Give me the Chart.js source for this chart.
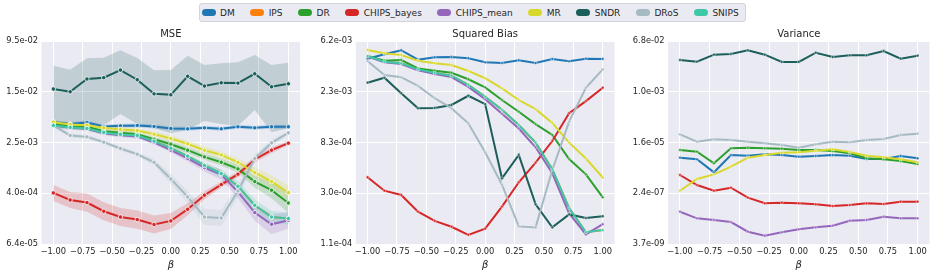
<!DOCTYPE html>
<html>
<head>
<meta charset="utf-8">
<script src="https://cdn.jsdelivr.net/npm/chart.js@4.4.1/dist/chart.umd.min.js"></script>
<style>
  html, body { margin: 0; padding: 0; background: #fff; }
  body { width: 934px; height: 274px; position: relative; overflow: hidden; font-family: "DejaVu Sans", sans-serif; }
  canvas { position: absolute; top: 0; }
  #legend { position: absolute; left: 199px; top: 3px; height: 19px; box-sizing: border-box; border: 1px solid #d3d3da;
            border-radius: 3px; background: #eaeaf2; display: flex; align-items: center; padding: 0 6px 0 1.5px;
            font-size: 9px; color: #262626; white-space: nowrap; }
  .item { display: flex; align-items: center; margin-right: 15.5px; }
  .item:last-child { margin-right: 0; }
  .patch { width: 14px; height: 7px; border-radius: 3.5px; margin-right: 4.5px; }
</style>
</head>
<body>
<div id="legend"></div>
<canvas id="mse" width="305" height="274" style="left:0px"></canvas>
<canvas id="bias" width="305" height="274" style="left:314px"></canvas>
<canvas id="variance" width="308" height="274" style="left:626px"></canvas>

<script>
const names = ['DM', 'IPS', 'DR', 'CHIPS_bayes', 'CHIPS_mean', 'MR', 'SNDR', 'DRoS', 'SNIPS'];
const colors = ['#1f77b4', '#ff7f0e', '#2ca02c', '#d62728', '#9467bd', '#d8d82c', '#1c5e5a', '#a6bac3', '#3fc8a8'];

const betas = [-1, -0.857, -0.714, -0.571, -0.429, -0.286, -0.143, 0, 0.143, 0.286, 0.429, 0.571, 0.714, 0.857, 1];
const xTicks = [-1, -0.75, -0.5, -0.25, 0, 0.25, 0.5, 0.75, 1];

// MSE (mean with confidence band)
const mseDM = [0.00513, 0.00478, 0.00508, 0.00440, 0.00449, 0.00456, 0.00440, 0.00409, 0.00403, 0.00418, 0.00403, 0.00434, 0.00418, 0.00434, 0.00434];
const mseDMLo = [0.00477, 0.00445, 0.00473, 0.00409, 0.00418, 0.00424, 0.00409, 0.00380, 0.00375, 0.00389, 0.00375, 0.00404, 0.00389, 0.00404, 0.00404];
const mseDMHi = [0.00551, 0.00514, 0.00546, 0.00473, 0.00483, 0.00490, 0.00473, 0.00440, 0.00433, 0.00449, 0.00433, 0.00467, 0.00449, 0.00467, 0.00467];
const mseIPS = [0.00456, 0.00424, 0.00409, 0.00354, 0.00330, 0.00318, 0.00259, 0.00201, 0.00151, 0.00108, 0.000809, 0.000512, 0.000258, 0.000169, 0.000160];
const mseDR = [0.00490, 0.00440, 0.00434, 0.00371, 0.00349, 0.00333, 0.00278, 0.00232, 0.00187, 0.00147, 0.00121, 0.000955, 0.000605, 0.000443, 0.000280];
const mseDRLo = [0.00456, 0.00409, 0.00404, 0.00345, 0.00325, 0.00310, 0.00259, 0.00208, 0.00168, 0.00132, 0.00107, 0.000827, 0.000488, 0.000332, 0.000195];
const mseDRHi = [0.00527, 0.00473, 0.00467, 0.00399, 0.00375, 0.00358, 0.00299, 0.00258, 0.00208, 0.00164, 0.00137, 0.00110, 0.000751, 0.000591, 0.000402];
const mseCHIPSb = [0.000402, 0.000312, 0.000284, 0.000208, 0.000169, 0.000154, 0.000129, 0.000147, 0.000223, 0.000370, 0.000543, 0.000789, 0.00134, 0.00187, 0.00241];
const mseCHIPSbLo = [0.000301, 0.000234, 0.000205, 0.000150, 0.000122, 0.000111, 0.0000933, 0.000110, 0.000180, 0.000320, 0.000487, 0.000708, 0.00120, 0.00168, 0.00224];
const mseCHIPSbHi = [0.000536, 0.000416, 0.000393, 0.000288, 0.000234, 0.000213, 0.000178, 0.000196, 0.000277, 0.000427, 0.000605, 0.000879, 0.00149, 0.00208, 0.00259];
const mseCHIPSm = [0.00453, 0.00418, 0.00403, 0.00345, 0.00321, 0.00307, 0.00247, 0.00187, 0.00139, 0.00100, 0.000780, 0.000417, 0.000198, 0.000130, 0.000150];
const mseCHIPSmLo = [0.00421, 0.00389, 0.00375, 0.00321, 0.00299, 0.00286, 0.00230, 0.00174, 0.00125, 0.000866, 0.000652, 0.000336, 0.000148, 0.0000907, 0.000112];
const mseCHIPSmHi = [0.00487, 0.00449, 0.00433, 0.00371, 0.00345, 0.00330, 0.00266, 0.00201, 0.00155, 0.00116, 0.000934, 0.000517, 0.000264, 0.000186, 0.000200];
const mseMR = [0.00513, 0.00472, 0.00460, 0.00418, 0.00394, 0.00380, 0.00333, 0.00285, 0.00235, 0.00187, 0.00158, 0.00121, 0.000838, 0.000605, 0.000407];
const mseMRLo = [0.00477, 0.00439, 0.00428, 0.00389, 0.00367, 0.00353, 0.00299, 0.00256, 0.00211, 0.00165, 0.00139, 0.00105, 0.000700, 0.000488, 0.000316];
const mseMRHi = [0.00551, 0.00507, 0.00495, 0.00449, 0.00424, 0.00409, 0.00371, 0.00317, 0.00262, 0.00212, 0.00179, 0.00140, 0.00100, 0.000751, 0.000524];
const mseSNDR = [0.0169, 0.0153, 0.0242, 0.0254, 0.0334, 0.0236, 0.0142, 0.0137, 0.0267, 0.0188, 0.0211, 0.0209, 0.0292, 0.0183, 0.0204];
const mseSNDRLo = [0.00478, 0.00445, 0.00513, 0.00460, 0.00685, 0.00478, 0.00413, 0.00345, 0.00385, 0.00532, 0.00478, 0.00445, 0.00791, 0.00358, 0.00413];
const mseSNDRHi = [0.0390, 0.0338, 0.0509, 0.0521, 0.0680, 0.0515, 0.0331, 0.0334, 0.0560, 0.0400, 0.0426, 0.0442, 0.0574, 0.0400, 0.0435];
const mseDRoS = [0.00456, 0.00318, 0.00302, 0.00250, 0.00199, 0.00162, 0.00121, 0.000665, 0.000348, 0.000169, 0.000163, 0.000432, 0.00139, 0.00243, 0.00349];
const mseDRoSLo = [0.00424, 0.00296, 0.00281, 0.00233, 0.00185, 0.00151, 0.00109, 0.000556, 0.000280, 0.000127, 0.000122, 0.000348, 0.00120, 0.00218, 0.00325];
const mseDRoSHi = [0.00490, 0.00342, 0.00325, 0.00269, 0.00214, 0.00174, 0.00135, 0.000796, 0.000432, 0.000225, 0.000217, 0.000536, 0.00161, 0.00271, 0.00375];
const mseSNIPS = [0.00456, 0.00424, 0.00409, 0.00354, 0.00330, 0.00318, 0.00259, 0.00201, 0.00151, 0.00108, 0.000809, 0.000512, 0.000258, 0.000169, 0.000160];
const mseSNIPSLo = [0.00424, 0.00394, 0.00380, 0.00329, 0.00307, 0.00296, 0.00241, 0.00187, 0.00140, 0.000969, 0.000700, 0.000428, 0.000208, 0.000136, 0.000129];
const mseSNIPSHi = [0.00490, 0.00456, 0.00440, 0.00381, 0.00355, 0.00342, 0.00278, 0.00216, 0.00162, 0.00120, 0.000934, 0.000613, 0.000320, 0.000210, 0.000199];
const mseTickVals = [6.4e-5, 3.97e-4, 2.47e-3, 1.53e-2, 9.5e-2];
const mseTickLabels = ['6.4e-05', '4.0e-04', '2.5e-03', '1.5e-02', '9.5e-02'];

// Squared bias
const biasDM = [0.00436, 0.00476, 0.00516, 0.00428, 0.00449, 0.00451, 0.00440, 0.00406, 0.00400, 0.00423, 0.00400, 0.00434, 0.00414, 0.00436, 0.00434];
const biasIPS = [0.00460, 0.00411, 0.00398, 0.00353, 0.00330, 0.00311, 0.00259, 0.00205, 0.00158, 0.00117, 0.000823, 0.000485, 0.000224, 0.000139, 0.000145];
const biasDR = [0.00460, 0.00419, 0.00425, 0.00360, 0.00344, 0.00330, 0.00290, 0.00247, 0.00192, 0.00152, 0.00119, 0.000958, 0.000595, 0.000439, 0.000278];
const biasCHIPSb = [0.000414, 0.000317, 0.000291, 0.000209, 0.000174, 0.000155, 0.000132, 0.000149, 0.000231, 0.000375, 0.000553, 0.000851, 0.00148, 0.00188, 0.00245];
const biasCHIPSm = [0.00456, 0.00406, 0.00393, 0.00347, 0.00322, 0.00303, 0.00249, 0.00195, 0.00146, 0.00109, 0.000751, 0.000448, 0.000202, 0.000133, 0.000163];
const biasMR = [0.00519, 0.00486, 0.00470, 0.00419, 0.00398, 0.00385, 0.00342, 0.00296, 0.00242, 0.00192, 0.00160, 0.00122, 0.000823, 0.000601, 0.000412];
const biasSNDR = [0.00271, 0.00299, 0.00220, 0.00163, 0.00164, 0.00174, 0.00209, 0.00177, 0.000406, 0.000644, 0.000242, 0.000153, 0.000198, 0.000184, 0.000191];
const biasDRoS = [0.00417, 0.00316, 0.00302, 0.00254, 0.00199, 0.00163, 0.00121, 0.000681, 0.000357, 0.000156, 0.000153, 0.000478, 0.00125, 0.00245, 0.00353];
const biasSNIPS = [0.00460, 0.00411, 0.00398, 0.00353, 0.00330, 0.00311, 0.00259, 0.00205, 0.00158, 0.00117, 0.000823, 0.000485, 0.000224, 0.000139, 0.000145];
const biasTickVals = [1.1e-4, 3.01e-4, 8.26e-4, 2.26e-3, 6.2e-3];
const biasTickLabels = ['1.1e-04', '3.0e-04', '8.3e-04', '2.3e-03', '6.2e-03'];

// Variance (IPS and SNIPS have no visible points here)
const varDM = [4.53e-6, 3.97e-6, 1.36e-6, 5.65e-6, 5.34e-6, 5.99e-6, 5.65e-6, 4.92e-6, 5.21e-6, 5.65e-6, 5.34e-6, 4.07e-6, 4.07e-6, 5.21e-6, 4.31e-6];
const varDR = [8.54e-6, 7.42e-6, 2.85e-6, 9.82e-6, 1.03e-5, 9.82e-6, 9.50e-6, 8.54e-6, 8.54e-6, 7.86e-6, 6.51e-6, 4.31e-6, 3.97e-6, 3.45e-6, 2.69e-6];
const varCHIPSb = [1.09e-6, 4.77e-7, 2.98e-7, 3.82e-7, 1.68e-7, 1.06e-7, 1.11e-7, 1.06e-7, 9.72e-8, 8.45e-8, 9.18e-8, 1.06e-7, 9.97e-8, 1.21e-7, 1.21e-7];
const varCHIPSm = [5.29e-8, 3.07e-8, 2.67e-8, 2.26e-8, 1.02e-8, 7.31e-9, 9.68e-9, 1.24e-8, 1.46e-8, 1.67e-8, 2.52e-8, 2.67e-8, 3.50e-8, 3.07e-8, 3.07e-8];
const varMR = [2.98e-7, 7.83e-7, 1.15e-6, 2.16e-6, 4.53e-6, 5.65e-6, 6.84e-6, 7.07e-6, 8.06e-6, 9.05e-6, 7.24e-6, 5.34e-6, 4.68e-6, 3.97e-6, 3.10e-6];
const varSNDR = [0.0142, 0.0124, 0.0220, 0.0233, 0.0316, 0.0220, 0.0121, 0.0121, 0.0259, 0.0182, 0.0209, 0.0209, 0.0298, 0.0158, 0.0203];
const varDRoS = [3.11e-5, 1.69e-5, 2.06e-5, 1.95e-5, 1.69e-5, 1.48e-5, 1.29e-5, 1.03e-5, 1.37e-5, 1.69e-5, 1.61e-5, 1.95e-5, 2.11e-5, 2.94e-5, 3.27e-5];
const varTickVals = [3.7e-9, 2.42e-7, 1.59e-5, 1.04e-3, 6.8e-2];
const varTickLabels = ['3.7e-09', '2.4e-07', '1.6e-05', '1.0e-03', '6.8e-02'];

// legend
const legend = document.getElementById('legend');
names.forEach((n, i) => {
  const item = document.createElement('div');
  item.className = 'item';
  item.innerHTML = `<span class="patch" style="background:${colors[i]}"></span><span>${n}</span>`;
  legend.appendChild(item);
});

const xy = arr => betas.map((b, i) => ({ x: b, y: arr[i] }));

function rgba(hex, a) {
  const n = parseInt(hex.slice(1), 16);
  return `rgba(${(n >> 16) & 255}, ${(n >> 8) & 255}, ${n & 255}, ${a})`;
}

// background + title drawn over the plot area
const panelDecor = {
  id: 'panelDecor',
  beforeDraw(chart, args, opts) {
    const { ctx, chartArea: a } = chart;
    ctx.save();
    ctx.fillStyle = '#eaeaf2';
    ctx.fillRect(a.left, a.top, a.right - a.left, a.bottom - a.top);
    ctx.fillStyle = '#262626';
    ctx.font = '10px "DejaVu Sans"';
    ctx.textAlign = 'center';
    ctx.textBaseline = 'middle';
    ctx.fillText(opts.text, (a.left + a.right) / 2, 34);
    ctx.restore();
  }
};

function buildSets(series, radius) {
  const sets = [];
  series.forEach((s, i) => {
    if (!s.data) return;
    const order = series.length - i;
    if (s.lo) {
      sets.push({ data: xy(s.lo), showLine: false, borderWidth: 0, borderColor: 'transparent', pointRadius: 0, fill: false, order: 100 + order * 2 });
      sets.push({ data: xy(s.hi), showLine: false, borderWidth: 0, borderColor: 'transparent', pointRadius: 0, fill: '-1',
                  backgroundColor: rgba(s.color, 0.2), order: 100 + order * 2 - 1 });
    }
    sets.push({
      data: xy(s.data), borderColor: s.color, backgroundColor: s.color, borderWidth: 2, tension: 0, fill: false,
      pointRadius: radius, pointBackgroundColor: s.color, pointBorderColor: 'rgba(255,255,255,0.85)',
      pointBorderWidth: radius > 2 ? 0.9 : 0.5, order
    });
  });
  return sets;
}

function makePanel(id, title, series, tickVals, tickLabels, yWidth, padRight, radius) {
  new Chart(document.getElementById(id), {
    type: 'line',
    data: { datasets: buildSets(series, radius) },
    options: {
      responsive: false,
      animation: false,
      devicePixelRatio: 1,
      layout: { padding: { top: 41, right: padRight, left: 0, bottom: 0 } },
      plugins: { legend: { display: false }, tooltip: { enabled: false }, panelDecor: { text: title } },
      scales: {
        x: {
          type: 'linear', min: -1.1, max: 1.1,
          afterBuildTicks: s => { s.ticks = xTicks.map(v => ({ value: v })); },
          afterFit: s => { s.height = 30; },
          ticks: {
            callback: v => v.toFixed(2).replace('-', '\u2212'),
            font: { size: 8.3, family: 'DejaVu Sans' }, color: '#262626', padding: 3, maxRotation: 0, autoSkip: false
          },
          grid: { color: '#ffffff', lineWidth: 1, drawTicks: false },
          border: { display: false },
          title: { display: true, text: 'β', font: { size: 10, style: 'italic', family: 'DejaVu Sans' }, color: '#262626', padding: { top: 0, bottom: 2.5 } }
        },
        y: {
          type: 'logarithmic', min: tickVals[0], max: tickVals[tickVals.length - 1],
          afterBuildTicks: s => { s.ticks = tickVals.map(v => ({ value: v })); },
          afterFit: s => { s.width = yWidth; },
          ticks: {
            callback: (v, i) => tickLabels[i],
            font: { size: 8.3, family: 'DejaVu Sans' }, color: '#262626', padding: 3.5, autoSkip: false
          },
          grid: { color: '#ffffff', lineWidth: 1, drawTicks: false },
          border: { display: false }
        }
      }
    },
    plugins: [panelDecor]
  });
}

const mseSeries = [
  { color: colors[0], data: mseDM, lo: mseDMLo, hi: mseDMHi },
  { color: colors[1], data: mseIPS },
  { color: colors[2], data: mseDR, lo: mseDRLo, hi: mseDRHi },
  { color: colors[3], data: mseCHIPSb, lo: mseCHIPSbLo, hi: mseCHIPSbHi },
  { color: colors[4], data: mseCHIPSm, lo: mseCHIPSmLo, hi: mseCHIPSmHi },
  { color: colors[5], data: mseMR, lo: mseMRLo, hi: mseMRHi },
  { color: colors[6], data: mseSNDR, lo: mseSNDRLo, hi: mseSNDRHi },
  { color: colors[7], data: mseDRoS, lo: mseDRoSLo, hi: mseDRoSHi },
  { color: colors[8], data: mseSNIPS, lo: mseSNIPSLo, hi: mseSNIPSHi }
];
const biasSeries = [biasDM, biasIPS, biasDR, biasCHIPSb, biasCHIPSm, biasMR, biasSNDR, biasDRoS, biasSNIPS]
  .map((d, i) => ({ color: colors[i], data: d }));
const varSeries = [varDM, null, varDR, varCHIPSb, varCHIPSm, varMR, varSNDR, varDRoS, null]
  .map((d, i) => ({ color: colors[i], data: d }));

makePanel('mse', 'MSE', mseSeries, mseTickVals, mseTickLabels, 41.6, 2.2, 2.2);
makePanel('bias', 'Squared Bias', biasSeries, biasTickVals, biasTickLabels, 41.8, 2.1, 1.4);
makePanel('variance', 'Variance', varSeries, varTickVals, varTickLabels, 42.1, 4.4, 1.4);
</script>
</body>
</html>
